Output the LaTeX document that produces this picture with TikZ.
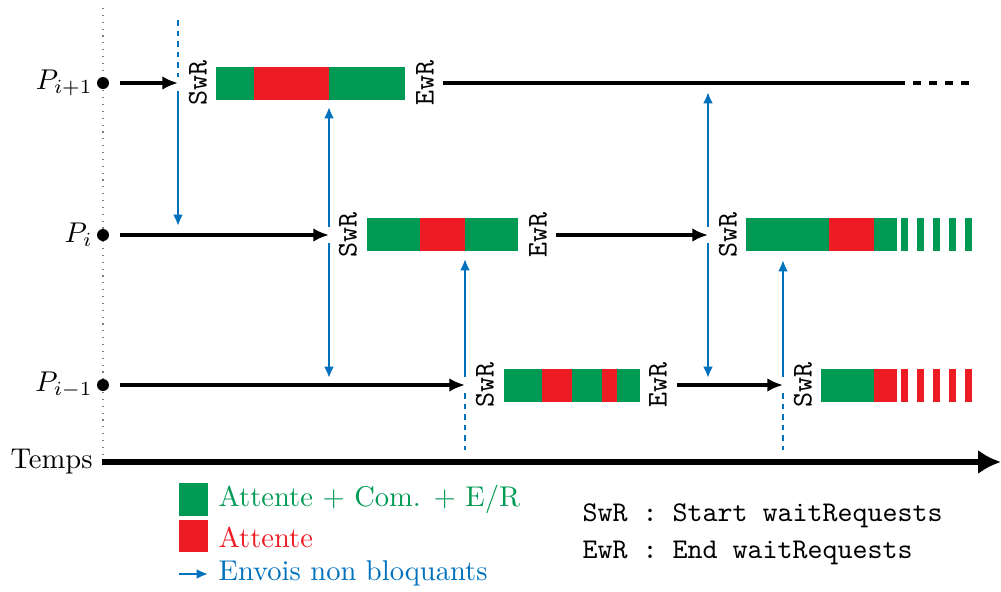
\documentclass[tikz,border=0pt]{standalone}
\usetikzlibrary{arrows.meta}
\definecolor{vert}{RGB}{0,154,84}
\definecolor{rouge}{RGB}{237,28,36}
\definecolor{bleu}{RGB}{0,114,189}
\begin{document}
\begin{tikzpicture}[x=0.35pt,y=-0.35pt,
  proc/.style={black, line width=1.2pt, -{Latex[length=5.5pt,width=4.8pt]}},
  procline/.style={black, line width=1.2pt},
  msg/.style={bleu, line width=0.8pt, -{Latex[length=4pt,width=3.5pt]}},
  msgdash/.style={bleu, line width=0.8pt, dash pattern=on 2pt off 1.7pt},
  lbl/.style={font=\ttfamily, rotate=90, inner sep=0pt},
  dotnode/.style={circle, fill=black, inner sep=0pt, minimum size=4.2pt},
  plabel/.style={anchor=east, inner sep=1pt}]

\useasboundingbox (0,0) rectangle (1001,592);

% dotted reference line
\draw[dotted, gray, line width=0.4pt] (103,8) -- (103,462);

% processes
\node[dotnode] (d1) at (103,83) {};
\node[dotnode] (d0) at (103,235) {};
\node[dotnode] (dm) at (103,385) {};
\node[plabel] (l1) at (96,83) {$P_{i+1}$};
\node[plabel] (l0) at (96,235) {$P_{i}$};
\node[plabel] (lm) at (96,385) {$P_{i-1}$};

% time axis
\node[plabel] (temps) at (96,462) {Temps};
\coordinate (tend) at (1001,462);
\draw[line width=1.8pt, -{Latex[length=8pt,width=8.5pt]}] (temps.east) ++(6,0) coordinate (tstart) (tstart) -- (tend);

% ---------- row P_{i+1} ----------
\coordinate (r1a) at (120,83);
\coordinate (r1b) at (178,83);
\draw[proc] (r1a) -- (r1b);
\node[lbl] (s1) at (198,83) {SwR};
\fill[vert]  (216,67) rectangle (254,100);
\fill[rouge] (254,67) rectangle (329,100);
\fill[vert]  (329,67) rectangle (405,100);
\node[lbl] (e1) at (425,83) {EwR};
\coordinate (r1c) at (443,83);
\coordinate (r1d) at (905,83);
\coordinate (r1e) at (969,83);
\draw[procline] (r1c) -- (r1d);
\draw[procline, dash pattern=on 2.8pt off 2.8pt] (r1d) ++(-8,0) coordinate (r1f) (r1f) -- (r1e);

% ---------- row P_i ----------
\coordinate (r0a) at (120,235);
\coordinate (r0b) at (329,235);
\draw[proc] (r0a) -- (r0b);
\node[lbl] (s0) at (348,235) {SwR};
\fill[vert]  (367,218) rectangle (420,251);
\fill[rouge] (420,218) rectangle (465,251);
\fill[vert]  (465,218) rectangle (518,251);
\node[lbl] (e0) at (538,235) {EwR};
\coordinate (r0c) at (556,235);
\coordinate (r0d) at (708,235);
\draw[proc] (r0c) -- (r0d);
\node[lbl] (s0b) at (728,235) {SwR};
\fill[vert]  (746,218) rectangle (829,251);
\fill[rouge] (829,218) rectangle (874,251);
\fill[vert]  (874,218) rectangle (897,251);
\foreach \x in {900.5,916.5,932.5,948.5,964.5}
  \fill[vert] (\x,218) rectangle (\x+7.5,251);

% ---------- row P_{i-1} ----------
\coordinate (rma) at (120,385);
\coordinate (rmb) at (465,385);
\draw[proc] (rma) -- (rmb);
\node[lbl] (sm) at (485,385) {SwR};
\fill[vert]  (504,369) rectangle (542,402);
\fill[rouge] (542,369) rectangle (572,402);
\fill[vert]  (572,369) rectangle (602,402);
\fill[rouge] (602,369) rectangle (617,402);
\fill[vert]  (617,369) rectangle (640,402);
\node[lbl] (em) at (658,385) {EwR};
\coordinate (rmc) at (677,385);
\coordinate (rmd) at (783,385);
\draw[proc] (rmc) -- (rmd);
\node[lbl] (smb) at (803,385) {SwR};
\fill[vert]  (821,369) rectangle (874,402);
\fill[rouge] (874,369) rectangle (897,402);
\foreach \x in {900.5,916.5,932.5,948.5,964.5}
  \fill[rouge] (\x,369) rectangle (\x+7.5,402);

% ---------- messages ----------
\coordinate (m1top) at (178,20);
\coordinate (m1dash) at (178,77);
\coordinate (m1s) at (178,91);
\coordinate (m1e) at (178,226);
\draw[msgdash] (m1top) -- (m1dash);
\draw[msg] (m1s) -- (m1e);
\coordinate (m2s) at (329,227);
\coordinate (m2e) at (329,107);
\coordinate (m3s) at (329,243);
\coordinate (m3e) at (329,378);
\draw[msg] (m2s) -- (m2e);
\draw[msg] (m3s) -- (m3e);
\coordinate (m4s) at (465,377);
\coordinate (m4e) at (465,259);
\coordinate (m4d) at (465,393);
\coordinate (m4f) at (465,450);
\draw[msg] (m4s) -- (m4e);
\draw[msgdash] (m4d) -- (m4f);
\coordinate (m5s) at (708,227);
\coordinate (m5e) at (708,92);
\coordinate (m6s) at (708,243);
\coordinate (m6e) at (708,378);
\draw[msg] (m5s) -- (m5e);
\draw[msg] (m6s) -- (m6e);
\coordinate (m7s) at (783,377);
\coordinate (m7e) at (783,260);
\coordinate (m7d) at (783,393);
\coordinate (m7f) at (783,450);
\draw[msg] (m7s) -- (m7e);
\draw[msgdash] (m7d) -- (m7f);

% ---------- legend ----------
\fill[vert]  (179,483) rectangle (208,516);
\fill[rouge] (179,520) rectangle (208,552);
\node[anchor=west, text=vert, inner sep=0pt] (lg1) at (218,499) {Attente + Com. + E/R};
\node[anchor=west, text=rouge, inner sep=0pt] (lg2) at (218,537) {Attente};
\coordinate (lga) at (179,574);
\coordinate (lgb) at (208,574);
\draw[msg] (lga) -- (lgb);
\node[anchor=west, text=bleu, inner sep=0pt] (lg3) at (218,573) {Envois non bloquants};

\node[anchor=west, font=\ttfamily, inner sep=0pt] (k1) at (582,516) {SwR : Start waitRequests};
\node[anchor=west, font=\ttfamily, inner sep=0pt] (k2) at (582,553) {EwR : End waitRequests};

\end{tikzpicture}
\end{document}
